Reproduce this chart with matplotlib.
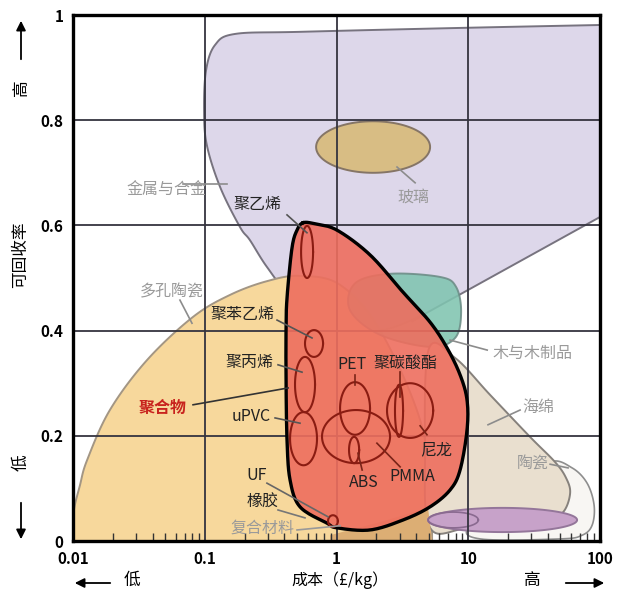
import numpy as np
import matplotlib.pyplot as plt

plt.rcParams['font.family'] = ['Noto Sans CJK SC', 'DejaVu Sans']

# ---- material envelopes, cost (GBP/kg) vs recyclability (0-1) ----
metals_cost = [0.0982, 0.1017, 0.119, 0.169, 0.526, 7.26, 100, 100, 4.53, 2.13, 0.889, 0.442, 0.295, 0.219, 0.184, 0.130, 0.103]
metals_rec = [0.819, 0.895, 0.943, 0.964, 0.968, 0.975, 0.981, 0.616, 0.430, 0.401, 0.420, 0.468, 0.521, 0.572, 0.597, 0.673, 0.753]

porous_cost = [0.01, 0.01, 0.0112, 0.0127, 0.0189, 0.0362, 0.0809, 0.155, 0.295, 0.526, 1.06, 2.13, 4.30, 5.30, 5.30]
porous_rec = [0.0, 0.053, 0.106, 0.154, 0.249, 0.344, 0.426, 0.468, 0.494, 0.504, 0.487, 0.401, 0.230, 0.078, 0.0]

wood_cost = [1.38, 2.54, 6.10, 8.07, 8.81, 7.93, 5.12, 2.13, 1.26]
wood_rec = [0.490, 0.508, 0.502, 0.483, 0.435, 0.386, 0.369, 0.392, 0.439]

ceramic_cost = [41.8, 61.4, 79.8, 90.2, 87.1, 73.1, 49.8, 12.3, 10.3, 24.7]
ceramic_rec = [0.150, 0.139, 0.110, 0.068, 0.030, 0.011, 0.004, 0.004, 0.030, 0.097]

foam_cost = [5.0, 7.93, 14.6, 29.4, 45.6, 55.2, 59.3, 52.5, 38.3, 10.3, 5.12, 4.69]
foam_rec = [0.365, 0.348, 0.278, 0.198, 0.150, 0.120, 0.091, 0.055, 0.036, 0.025, 0.025, 0.173]

compo_cost = [0.889, 2.13, 4.94, 5.30, 0.889]
compo_rec = [0.011, 0.036, 0.063, 0.0, 0.0]

polymer_cost = [0.555, 0.684, 1.005, 1.79, 3.19, 5.12, 6.89, 8.65, 9.77, 9.77, 8.65, 7.26, 5.12, 3.19,
                1.79, 1.005, 0.843, 0.526, 0.442, 0.419, 0.412, 0.412, 0.419, 0.457, 0.499]
polymer_rec = [0.605, 0.603, 0.591, 0.544, 0.473, 0.416, 0.367, 0.316, 0.268, 0.211, 0.135, 0.097, 0.065, 0.040,
               0.021, 0.025, 0.034, 0.065, 0.116, 0.192, 0.306, 0.401, 0.462, 0.557, 0.591]

# ellipses: cost low, cost high, rec low, rec high
glass = (0.697, 5.12, 0.700, 0.798)
composite_band = (4.94, 67.0, 0.017, 0.063)
composite_tail = (4.94, 11.9, 0.025, 0.055)
polymer_names = ['PE', 'PS', 'PP', 'uPVC', 'PET', 'PMMA', 'ABS', 'Nylon', 'PC', 'UF']
poly_cost_lo = [0.536, 0.574, 0.482, 0.442, 1.06, 0.773, 1.24, 2.41, 2.77, 0.859]
poly_cost_hi = [0.661, 0.787, 0.684, 0.708, 1.79, 2.54, 1.48, 5.40, 3.19, 1.02]
poly_rec_lo = [0.500, 0.350, 0.245, 0.144, 0.202, 0.148, 0.148, 0.196, 0.198, 0.027]
poly_rec_hi = [0.599, 0.401, 0.350, 0.245, 0.302, 0.249, 0.198, 0.300, 0.297, 0.049]

GREY = '#9a9a9a'
BLACK = '#222222'
labels = [
    ('金属与合金', 0.0513, 0.667, GREY), ('聚乙烯', 0.252, 0.639, BLACK),
    ('多孔陶瓷', 0.056, 0.473, GREY), ('聚苯乙烯', 0.191, 0.430, BLACK),
    ('聚丙烯', 0.219, 0.340, BLACK), ('uPVC', 0.223, 0.236, BLACK),
    ('PET', 1.31, 0.335, BLACK), ('聚碳酸酯', 3.30, 0.338, BLACK),
    ('尼龙', 5.68, 0.173, BLACK), ('ABS', 1.61, 0.112, BLACK),
    ('PMMA', 3.73, 0.122, BLACK), ('UF', 0.248, 0.125, BLACK),
    ('橡胶', 0.275, 0.074, BLACK), ('复合材料', 0.275, 0.025, GREY),
    ('玻璃', 3.80, 0.654, GREY), ('木与木制品', 30.5, 0.357, GREY),
    ('海绵', 33.8, 0.253, GREY), ('陶瓷', 31.0, 0.148, GREY),
]
leaders = [
    (0.0679, 0.679, 0.147, 0.679, '#8c8c8c'), (0.419, 0.620, 0.594, 0.586, '#555555'),
    (0.0644, 0.458, 0.0795, 0.414, '#8c8c8c'), (0.352, 0.420, 0.649, 0.386, '#555555'),
    (0.358, 0.335, 0.545, 0.321, '#555555'), (0.081, 0.259, 0.427, 0.291, '#333333'),
    (0.340, 0.234, 0.526, 0.224, '#555555'), (1.38, 0.316, 1.38, 0.297, '#7a2418'),
    (3.03, 0.321, 3.03, 0.274, '#7a2418'), (4.30, 0.219, 4.85, 0.202, '#7a2418'),
    (1.45, 0.167, 1.56, 0.135, '#7a2418'), (2.02, 0.186, 3.03, 0.141, '#7a2418'),
    (0.295, 0.110, 0.859, 0.046, '#666666'), (0.358, 0.059, 0.574, 0.044, '#777777'),
    (0.499, 0.021, 1.06, 0.029, '#999999'), (2.87, 0.711, 3.94, 0.681, '#8c8c8c'),
    (7.26, 0.382, 13.9, 0.363, '#8c8c8c'), (14.1, 0.221, 24.7, 0.249, '#8c8c8c'),
    (41.8, 0.146, 57.2, 0.139, '#8c8c8c'),
]

SX, SY = 131.6, 526.0  # screen scale of one decade / one unit of recyclability


def smooth(cost, rec, sharp=(), n=14):
    pts = []
    for i, (a, b) in enumerate(zip(np.log10(cost) * SX, np.asarray(rec) * SY)):
        pts.append((a, b))
        if i in sharp:
            pts.append((a, b))
    P = np.array(pts)
    m = len(P)
    t = np.linspace(0, 1, n, endpoint=False)[:, None]
    out = []
    for i in range(m):
        p0, p1, p2, p3 = P[i - 1], P[i], P[(i + 1) % m], P[(i + 2) % m]
        out.append(0.5 * (2 * p1 + (p2 - p0) * t + (2 * p0 - 5 * p1 + 4 * p2 - p3) * t ** 2
                          + (3 * p1 - p0 - 3 * p2 + p3) * t ** 3))
    out = np.vstack(out)
    return 10 ** (out[:, 0] / SX), out[:, 1] / SY


def ellipse(lo, hi, ylo, yhi, n=120):
    th = np.linspace(0, 2 * np.pi, n)
    c, r = (np.log10(lo) + np.log10(hi)) / 2, (np.log10(hi) - np.log10(lo)) / 2
    return 10 ** (c + r * np.cos(th)), (ylo + yhi) / 2 + (yhi - ylo) / 2 * np.sin(th)


fig = plt.figure(figsize=(6.4, 6.0), dpi=100)
ax = fig.add_axes([0.1148, 0.0983, 0.8227, 0.8767])
ax.set_xscale('log')

x, y = smooth(metals_cost, metals_rec, sharp=(6, 7, 8))
ax.fill(x, y, fc='#ddd7ea', ec='#77737f', lw=1.4, zorder=1)
x, y = ellipse(*glass)
ax.fill(x, y, fc='#d8bd84', ec='#857566', lw=1.4, zorder=1.2)
x, y = smooth(porous_cost, porous_rec, sharp=(0, 13, 14))
ax.fill(x, y, fc='#f7d89c', ec='#a39684', lw=1.4, zorder=1.3)
x, y = smooth(wood_cost, wood_rec)
ax.fill(x, y, fc='#80c4b0', ec='#6c8c86', lw=1.4, alpha=0.88, zorder=1.3)
x, y = smooth(ceramic_cost, ceramic_rec)
ax.fill(x, y, fc='#f8f6f3', ec='#8e8e8e', lw=1.2, zorder=1.4)
x, y = smooth(foam_cost, foam_rec)
ax.fill(x, y, fc='#e9dfcf', ec='#86817c', lw=1.4, zorder=1.5)
ax.fill(compo_cost, compo_rec, fc='#dcae74', ec='none', zorder=1.6)
x, y = ellipse(*composite_band)
ax.fill(x, y, fc='#c7a2c9', ec='#94769a', lw=1.4, zorder=1.7)
x, y = ellipse(*composite_tail)
ax.plot(x, y, color='#8a6a90', lw=1.2, zorder=1.8)

x, y = smooth(polymer_cost, polymer_rec)
ax.fill(x, y, fc='#ee6e5e', alpha=0.9, ec='none', zorder=3)
ax.plot(np.append(x, x[0]), np.append(y, y[0]), color='black', lw=2.4, zorder=3.2)
for lo, hi, ylo, yhi in zip(poly_cost_lo, poly_cost_hi, poly_rec_lo, poly_rec_hi):
    x, y = ellipse(lo, hi, ylo, yhi)
    ax.plot(x, y, color='#8a1c12', lw=1.5, zorder=3.4)

for x0, y0, x1, y1, c in leaders:
    ax.plot([x0, x1], [y0, y1], color=c, lw=1.2, zorder=4)
for txt, tx, ty, c in labels:
    ax.text(tx, ty, txt, color=c, fontsize=11.5, ha='center', va='center', zorder=5)
ax.text(0.0479, 0.253, '聚合物', color='#c8231e', fontsize=11.5, fontweight='bold',
        ha='center', va='center', zorder=5)

ax.set_xlim(0.01, 100)
ax.set_ylim(0, 1)
ax.set_xticks([0.01, 0.1, 1, 10, 100])
ax.set_xticklabels(['0.01', '0.1', '1', '10', '100'])
ax.set_yticks([0, 0.2, 0.4, 0.6, 0.8, 1])
ax.set_yticklabels(['0', '0.2', '0.4', '0.6', '0.8', '1'])
ax.set_axisbelow(False)
ax.grid(True, which='major', color='#35343f', lw=1.3)
ax.tick_params(which='major', length=0, labelsize=11, pad=7)
ax.tick_params(axis='x', which='minor', direction='in', length=6, width=1, color='#333333')
for lab in ax.get_xticklabels() + ax.get_yticklabels():
    lab.set_fontweight('bold')
for s in ax.spines.values():
    s.set_linewidth(2.4)
    s.set_zorder(6)

# axis captions with arrows (figure pixel coordinates)
arrow = dict(arrowstyle='-|>', color='black', lw=1.3, mutation_scale=14)
ax.annotate('', xy=(21, 582), xytext=(21, 538), xycoords='figure pixels', arrowprops=arrow)
ax.annotate('', xy=(21, 58), xytext=(21, 100), xycoords='figure pixels', arrowprops=arrow)
ax.annotate('', xy=(72, 17), xytext=(113, 17), xycoords='figure pixels', arrowprops=arrow)
ax.annotate('', xy=(607, 17), xytext=(563, 17), xycoords='figure pixels', arrowprops=arrow)
fig.text(21 / 640, 512 / 600, '高', rotation=90, fontsize=12, ha='center', va='center')
fig.text(21 / 640, 345 / 600, '可回收率', rotation=90, fontsize=12, ha='center', va='center')
fig.text(21 / 640, 137 / 600, '低', rotation=90, fontsize=12, ha='center', va='center')
fig.text(132 / 640, 20 / 600, '低', fontsize=12, ha='center', va='center')
fig.text(340 / 640, 20 / 600, '成本（£/kg）', fontsize=11.5, ha='center', va='center')
fig.text(532 / 640, 20 / 600, '高', fontsize=12, ha='center', va='center')

fig.savefig('out.png', dpi=100)
